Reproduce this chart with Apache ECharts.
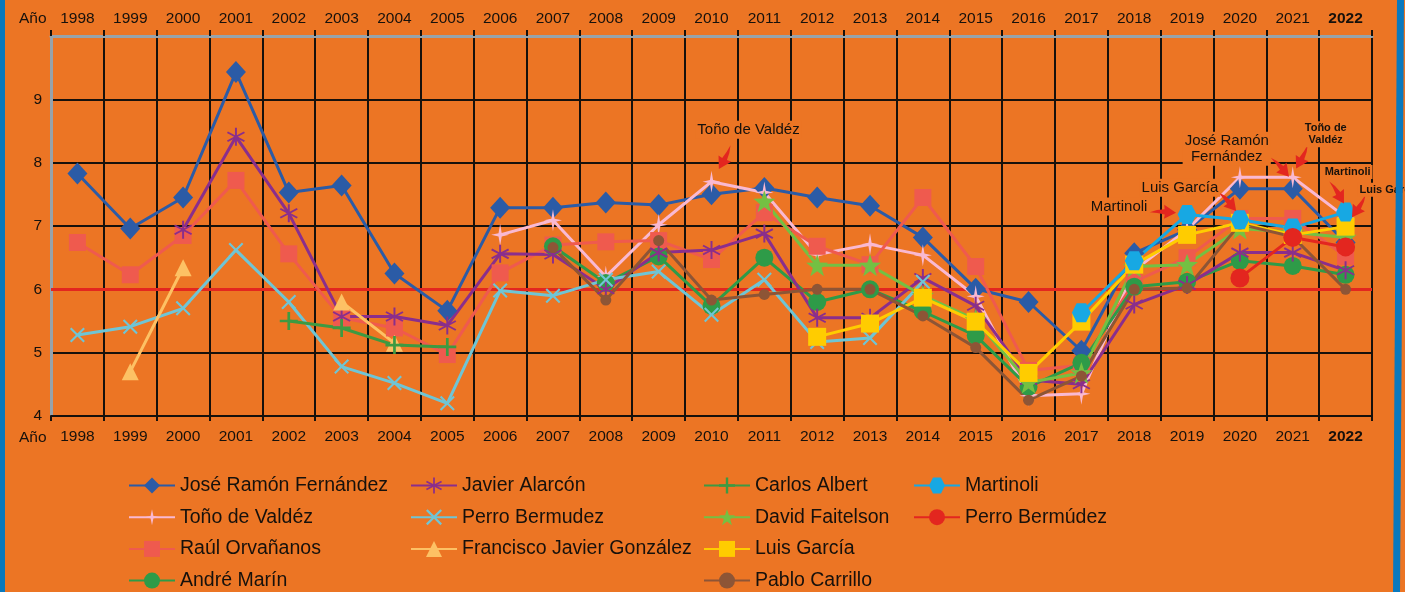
<!DOCTYPE html>
<html>
<head>
<meta charset="utf-8">
<script src="https://cdn.jsdelivr.net/npm/echarts@6/dist/echarts.min.js"></script>
<style>
html,body{margin:0;padding:0;background:#ec7524;}
#c{width:1405px;height:592px;}
</style>
</head>
<body>
<div id="c"></div>
<script>
var years = ['1998','1999','2000','2001','2002','2003','2004','2005','2006','2007','2008','2009','2010','2011','2012','2013','2014','2015','2016','2017','2018','2019','2020','2021','2022'];
var yTicks = [4,5,6,7,8,9];
var N = null;

var joseRamon   = [7.83,6.96,7.45,9.43,7.53,7.64,6.25,5.66,7.29,7.29,7.37,7.33,7.50,7.60,7.45,7.32,6.82,6.01,5.80,5.03,6.57,6.94,7.59,7.59,6.74];
var tonoValdez  = [N,N,N,N,N,N,N,N,6.86,7.09,6.20,7.02,7.70,7.53,6.55,6.71,6.54,5.89,4.32,4.35,6.30,6.94,7.77,7.77,7.14];
var raulOrv     = [6.74,6.23,6.85,7.72,6.56,5.55,5.39,4.97,6.26,6.70,6.75,6.77,6.47,7.21,6.68,6.39,7.45,6.36,4.72,4.80,6.12,6.50,7.12,7.12,6.52];
var andreMarin  = [N,N,N,N,N,N,N,N,N,6.68,6.10,6.52,5.74,6.50,5.80,6.00,5.65,5.27,4.46,4.84,6.04,6.12,6.45,6.37,6.23];
var javierAlar  = [N,N,6.94,8.41,7.20,5.57,5.57,5.43,6.56,6.55,6.00,6.58,6.62,6.88,5.55,5.55,6.18,5.74,4.57,4.50,5.76,6.07,6.58,6.58,6.30];
var perroBermu  = [5.28,5.41,5.70,6.62,5.80,4.78,4.52,4.20,5.98,5.90,6.15,6.28,5.60,6.15,5.17,5.23,6.12,N,N,N,N,N,N,N,N];
var franciscoJG = [N,4.70,6.34,N,N,5.80,5.15,N,N,N,N,N,N,N,N,N,N,N,N,N,N,N,N,N,N];
var carlosAlb   = [N,N,N,N,5.50,5.39,5.12,5.09,N,N,N,N,N,N,N,N,N,N,N,N,N,N,N,N,N];
var davidFait   = [N,N,N,N,N,N,N,N,N,N,N,N,N,7.39,6.38,6.38,5.90,5.52,4.53,4.68,6.36,6.39,6.96,6.90,6.82];
var luisGarcia  = [N,N,N,N,N,N,N,N,N,N,N,N,N,N,5.25,5.46,5.87,5.49,4.68,5.49,6.39,6.86,7.05,6.86,6.99];
var pabloCarr   = [N,N,N,N,N,N,N,N,N,6.66,5.83,6.77,5.83,5.92,6.00,6.00,5.58,5.08,4.25,4.63,6.00,6.02,7.03,6.83,6.00];
var martinoli   = [N,N,N,N,N,N,N,N,N,N,N,N,N,N,N,N,N,N,N,5.63,6.45,7.18,7.10,6.97,7.22];
var perroBermud2= [N,N,N,N,N,N,N,N,N,N,N,N,N,N,N,N,N,N,N,N,N,N,6.18,6.82,6.67];

var FONT = '"Liberation Sans",Arial,sans-serif';
var INK = '#16110c';
var RED = '#e3261f';
var BG = '#ec7524';

var P_SPARK = 'path://M0,-11 L1.6,-1.6 L9,0 L1.6,1.6 L0,11 L-1.6,1.6 L-9,0 L-1.6,-1.6 Z';
var P_AST = 'path://M-1,-10 L1,-10 L1,10 L-1,10 Z M8.16,5.866 L-9.16,-4.134 L-8.16,-5.866 L9.16,4.134 Z M9.16,-4.134 L-8.16,5.866 L-9.16,4.134 L8.16,-5.866 Z';
var P_X = 'path://M-10,-8 L-8,-10 L0,-2 L8,-10 L10,-8 L2,0 L10,8 L8,10 L0,2 L-8,10 L-10,8 L-2,0 Z';
var P_PLUS = 'path://M-1.5,-10 L1.5,-10 L1.5,-1.5 L10,-1.5 L10,1.5 L1.5,1.5 L1.5,10 L-1.5,10 L-1.5,1.5 L-10,1.5 L-10,-1.5 L-1.5,-1.5 Z';
var P_HEX = 'path://M-10,0 L-5,-8.66 L5,-8.66 L10,0 L5,8.66 L-5,8.66 Z';
var P_STAR = 'path://M0,-10 L2.35,-3.24 L9.51,-3.09 L3.8,1.24 L5.88,8.09 L0,4 L-5.88,8.09 L-3.8,1.24 L-9.51,-3.09 L-2.35,-3.24 Z';
var P_ARROW = 'path://M-3,-12 Q1,-6 2.5,1 L7,0 L1,12 L-7,2 L-2.5,2 Q-2,-5 -3,-12 Z';

function arrow(cat, val, dx, dy, rot) {
  return {coord:[cat,val], symbol:P_ARROW, symbolSize:[14,26], symbolRotate:rot, symbolOffset:[dx,dy],
          itemStyle:{color:RED}, label:{show:false}};
}
function note(cat, val, text, dx, dy, small) {
  return {coord:[cat,val], symbol:'rect', symbolSize:1, itemStyle:{color:'rgba(0,0,0,0)'},
          label:{show:true, position:'inside', offset:[dx,dy], formatter:text,
                 color:INK, fontFamily:FONT, fontSize: small?11:15, fontWeight: small?'bold':'normal',
                 lineHeight: small?12:16, align:'center', backgroundColor:BG, padding:[1,2]}};
}

function mk(name, data, color, symbol, size, extra) {
  var s = {name:name, type:'line', data:data, connectNulls:false, symbol:symbol, symbolSize:size,
           lineStyle:{color:color, width:3}, itemStyle:{color:color}, showSymbol:true};
  if (extra) for (var k in extra) s[k] = extra[k];
  return s;
}

var series = [
  mk('José Ramón Fernández', joseRamon, '#2b5ba6', 'diamond', [20,22], {z:3,
    markPoint:{silent:true, animation:false, data:[
      arrow(years[23], joseRamon[23], -12, -22, 35),
      note(years[23], joseRamon[23], 'José Ramón\nFernández', -66, -40, false)
    ]}}),
  mk('Toño de Valdéz', tonoValdez, '#f9b9d2', P_SPARK, [18,22], {z:3,
    markLine:{silent:true, symbol:'none', animation:false, label:{show:false},
      lineStyle:{color:RED, width:3, type:'solid'}, data:[{yAxis:6}], z:1},
    markPoint:{silent:true, animation:false, data:[
      arrow(years[12], tonoValdez[12], 14, -24, -35),
      note(years[12], tonoValdez[12], 'Toño de Valdéz', 37, -52, false),
      arrow(years[23], tonoValdez[23], 10, -20, -35),
      note(years[23], tonoValdez[23], 'Toño de\nValdéz', 33, -43, true)
    ]}}),
  mk('Raúl Orvañanos', raulOrv, '#ef5a4e', 'rect', 17),
  mk('André Marín', andreMarin, '#2e9b48', 'circle', 18),
  mk('Javier Alarcón', javierAlar, '#8a2e8c', P_AST, 18),
  mk('Perro Bermudez', perroBermu, '#6fc5d5', P_X, 15),
  mk('Francisco Javier González', franciscoJG, '#fdc164', 'triangle', 17),
  mk('Carlos Albert', carlosAlb, '#3d9a42', P_PLUS, 18),
  mk('David Faitelson', davidFait, '#74c043', P_STAR, 22),
  mk('Luis García', luisGarcia, '#ffcc00', 'rect', 18, {
    markPoint:{silent:true, animation:false, data:[
      arrow(years[22], luisGarcia[22], -12, -22, 35),
      note(years[22], luisGarcia[22], 'Luis García', -60, -35, false),
      arrow(years[24], luisGarcia[24], 14, -20, -40),
      note(years[24], luisGarcia[24], 'Luis García', 44, -37, true)
    ]}}),
  mk('Pablo Carrillo', pabloCarr, '#8d5536', 'circle', 11),
  mk('Martinoli', martinoli, '#17a8e3', P_HEX, 19, {
    markPoint:{silent:true, animation:false, data:[
      arrow(years[21], martinoli[21], -24, -3, 80),
      note(years[21], martinoli[21], 'Martinoli', -68, -8, false),
      arrow(years[24], martinoli[24], -8, -20, 25),
      note(years[24], martinoli[24], 'Martinoli', 2, -40, true)
    ]}}),
  mk('Perro Bermúdez', perroBermud2, '#e3261f', 'circle', 19)
];

var legendBase = {orient:'vertical', top:475, padding:0, itemWidth:46, itemHeight:20, itemGap:10.7,
  textStyle:{fontFamily:FONT, fontSize:19.5, lineHeight:21, color:INK, padding:[0,0,0,0]}, selectedMode:false};
function lg(left, data) { var o = JSON.parse(JSON.stringify(legendBase)); o.left = left; o.data = data; return o; }

var yearLabel = {fontFamily:FONT, fontSize:15.5, color:INK,
  formatter:function(v){ return v==='2022' ? '{b|2022}' : v; },
  rich:{b:{fontFamily:FONT, fontSize:15.5, fontWeight:'bold', color:INK}}};

var chart = echarts.init(document.getElementById('c'), null, {renderer:'canvas'});
chart.setOption({
  animation:false,
  backgroundColor:BG,
  grid:{left:51, right:33, top:36, bottom:176},
  legend:[
    lg(128, ['José Ramón Fernández','Toño de Valdéz','Raúl Orvañanos','André Marín']),
    lg(410, ['Javier Alarcón','Perro Bermudez','Francisco Javier González']),
    lg(703, ['Carlos Albert','David Faitelson','Luis García','Pablo Carrillo']),
    lg(913, ['Martinoli','Perro Bermúdez'])
  ],
  xAxis:[
    {type:'category', data:years, position:'bottom', boundaryGap:true,
     axisLine:{lineStyle:{color:INK, width:2}},
     axisTick:{show:true, length:5, lineStyle:{color:INK, width:2}},
     axisLabel:Object.assign({margin:13, interval:0}, yearLabel),
     splitLine:{show:true, interval:0, lineStyle:{color:INK, width:2}}},
    {type:'category', data:years, position:'top', boundaryGap:true,
     axisLine:{lineStyle:{color:'#97a3ab', width:3}, onZero:false},
     axisTick:{show:true, length:6, lineStyle:{color:INK, width:2}},
     axisLabel:Object.assign({margin:9, interval:0}, yearLabel),
     splitLine:{show:false}}
  ],
  yAxis:[
    {type:'value', min:4, max:10, interval:1, position:'left',
     axisLine:{show:true, lineStyle:{color:'#97a3ab', width:3}},
     axisTick:{show:false},
     axisLabel:{fontFamily:FONT, fontSize:15.5, color:INK, margin:9,
       formatter:function(v){ return yTicks.indexOf(v) >= 0 ? String(v) : ''; }},
     splitLine:{show:true, lineStyle:{color:INK, width:2}}},
    {type:'value', min:4, max:10, interval:1, position:'right',
     axisLine:{show:true, lineStyle:{color:INK, width:2}},
     axisTick:{show:false}, axisLabel:{show:false}, splitLine:{show:false}}
  ],
  graphic:[
    {type:'rect', left:0, top:0, shape:{width:5, height:592}, style:{fill:'#0a79bd'}, z:100},
    {type:'polygon', shape:{points:[[1397,0],[1404,0],[1400,592],[1393,592]]}, style:{fill:'#0a79bd'}, z:100},
    {type:'text', left:19, top:11, style:{text:'Año', font:'15.5px ' + FONT, fill:INK}},
    {type:'text', left:19, top:430, style:{text:'Año', font:'15.5px ' + FONT, fill:INK}}
  ],
  series:series
});
</script>
</body>
</html>
